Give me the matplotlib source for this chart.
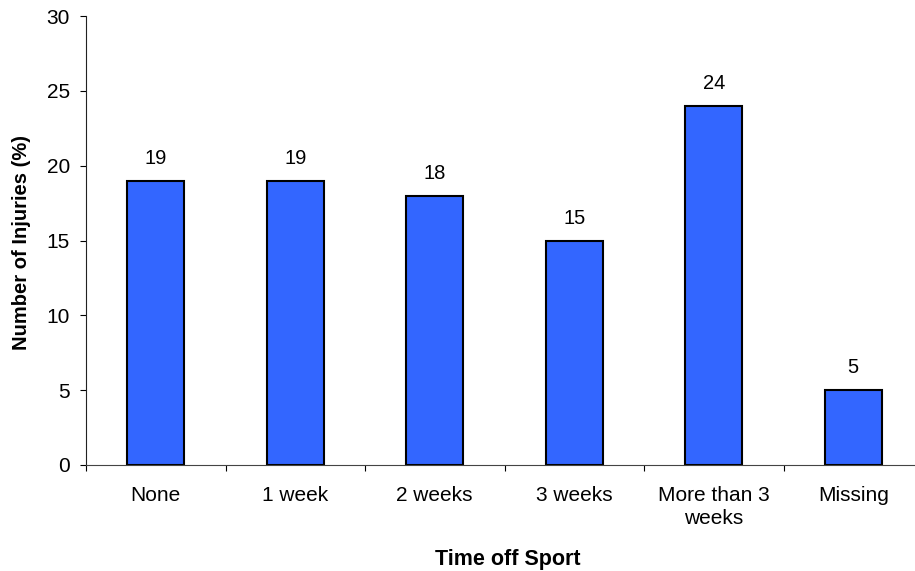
import matplotlib.pyplot as plt

plt.rcParams['font.family'] = ['Liberation Sans', 'DejaVu Sans']

# Tiempo fuera del deporte vs. porcentaje de lesiones
categorias = ['None', '1 week', '2 weeks', '3 weeks', 'More than 3\nweeks', 'Missing']
porcentajes = [19, 19, 18, 15, 24, 5]

fig = plt.figure(figsize=(9.15, 5.71), dpi=100)
# el eje x se extiende un poco más allá del borde derecho
ax = fig.add_axes([86 / 915, 1 - 465 / 571, 837 / 915, 449 / 571])

x = range(len(categorias))
barras = ax.bar(x, porcentajes, width=0.41, color='#3366FF', edgecolor='black', linewidth=1.5)

for xi, v in zip(x, porcentajes):
    ax.annotate(str(v), (xi, v), xytext=(0, 16), textcoords='offset points',
                ha='center', va='center', fontsize=14.5)

ax.set_xlim(-0.5, len(categorias) - 0.5)
ax.set_ylim(0, 30)
ax.set_yticks(range(0, 31, 5))
ax.tick_params(axis='y', labelsize=15, length=4.5, direction='out', pad=7)

# marcas en los límites de cada categoría, etiquetas centradas
ax.set_xticks([i - 0.5 for i in range(len(categorias) + 1)])
ax.set_xticklabels([])
ax.set_xticks(list(x), minor=True)
ax.set_xticklabels(categorias, minor=True, fontsize=15, linespacing=1.3)
ax.tick_params(axis='x', which='major', length=4.5, direction='out')
ax.tick_params(axis='x', which='minor', length=0, pad=15)

for s in ['top', 'right']:
    ax.spines[s].set_visible(False)
ax.spines['left'].set_color('#222222')
ax.spines['bottom'].set_color('#444444')

fig.text(508 / 915, 1 - 565 / 571, 'Time off Sport', ha='center', va='baseline',
         fontsize=15.5, fontweight='bold')
fig.text(22 / 915, 1 - 242 / 571, 'Number of Injuries (%)', ha='center', va='center',
         rotation=90, fontsize=14.5, fontweight='bold')

fig.savefig('out.png', dpi=100)
